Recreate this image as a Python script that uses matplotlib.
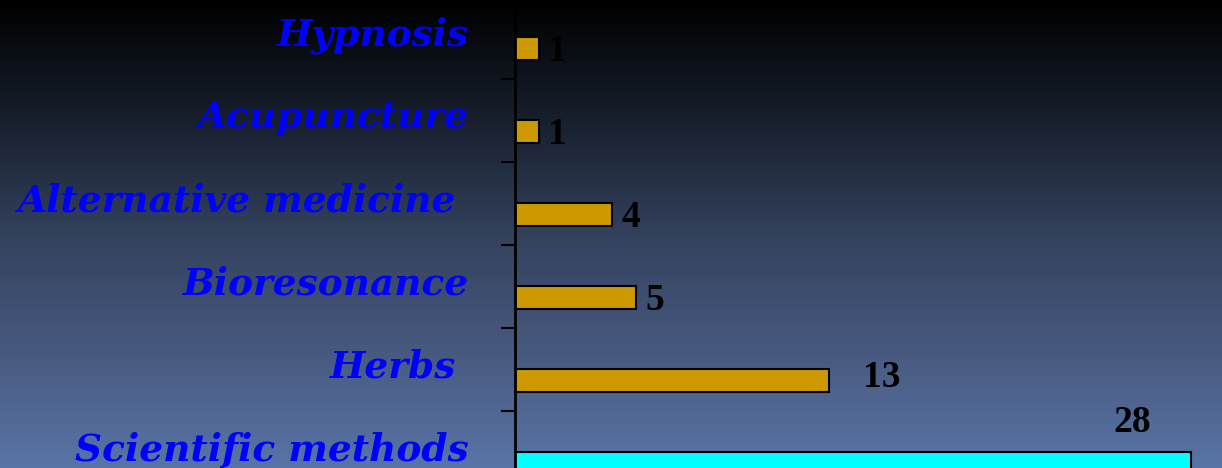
#!/usr/bin/env python3
from matplotlib import pyplot as plt
from matplotlib.colors import LinearSegmentedColormap
import numpy as np

outputImage = "out.png"
DPI = 100

# data, bottom to top
categories = ["Scientific methods", "Herbs ", "Bioresonance",
              "Alternative medicine ", "Acupuncture", "Hypnosis"]
counts = [28, 13, 5, 4, 1, 1]
barColors = ["#00ffff", "#cc9900", "#cc9900", "#cc9900", "#cc9900", "#cc9900"]

# value label offsets in pixels (dx, dy of baseline, ha)
labelOffsets = [(-58, 32, "center"), (34, -7, "left"), (10, -13, "left"),
                (10, -13, "left"), (9, -13, "left"), (9, -13, "left")]


def drawBackground(fig):
    bg = fig.add_axes([0, 0, 1, 1], zorder=-10)
    stops = [(0.0, "#000000"), (0.26, "#18202e"), (0.51, "#34425e"),
             (0.75, "#48597f"), (1.0, "#5874a6")]
    cmap = LinearSegmentedColormap.from_list("bg", stops)
    grad = np.linspace(0, 1, 256).reshape(-1, 1)
    bg.imshow(grad, aspect="auto", cmap=cmap, extent=[0, 1, 1, 0])
    bg.set_axis_off()


def plotChart():
    fig = plt.figure(figsize=(12.22, 4.68), dpi=DPI)
    drawBackground(fig)
    ax = fig.add_axes([515 / 1222, 0, 1 - 515 / 1222, 1])
    ax.patch.set_alpha(0)

    y = np.arange(len(categories))
    ax.barh(y, counts, height=0.28, color=barColors, edgecolor="black",
            linewidth=1.5)
    ax.set_xlim(0, 29.3)
    ax.set_ylim(-0.054, 5.58)

    for s in ["top", "right", "bottom"]:
        ax.spines[s].set_visible(False)
    ax.spines["left"].set_linewidth(2)
    ax.spines["left"].set_color("black")
    ax.set_xticks([])
    ax.set_yticks(y[:-1] + 0.63)
    ax.set_yticklabels([])
    ax.tick_params(axis="y", direction="out", length=10, width=1.5,
                   color="black")

    for i, (name, val) in enumerate(zip(categories, counts)):
        ax.annotate(name, xy=(0, i), xycoords=("axes fraction", "data"),
                    xytext=(-46, 3), textcoords="offset pixels",
                    ha="right", va="baseline", color="#0000ff",
                    fontsize=27, fontweight="bold", fontstyle="italic",
                    family="DejaVu Serif")
        dx, dy, ha = labelOffsets[i]
        ax.annotate(str(val), xy=(val, i), xytext=(dx, dy),
                    textcoords="offset pixels", ha=ha, va="baseline",
                    color="black", fontsize=27, fontweight="bold",
                    family="Liberation Serif")

    fig.savefig(outputImage, dpi=DPI)
    plt.close()


def main():
    plotChart()


if __name__ == '__main__':
    main()
